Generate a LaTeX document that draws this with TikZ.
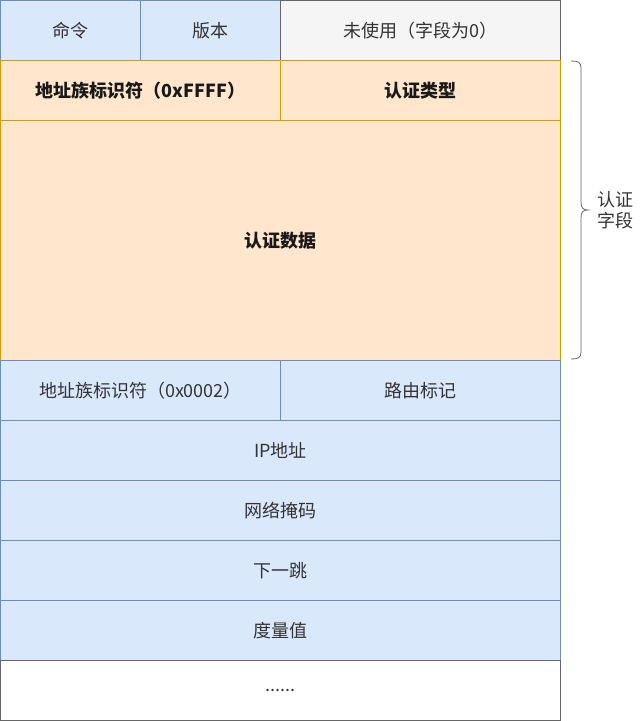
\documentclass[tikz,border=0pt]{standalone}
\usepackage{fontspec}
\setmainfont{Noto Sans CJK SC}
\definecolor{bfill}{HTML}{DAE8FC}
\definecolor{bline}{HTML}{6C8EBF}
\definecolor{ofill}{HTML}{FFE6CC}
\definecolor{oline}{HTML}{D79B00}
\definecolor{gfill}{HTML}{F5F5F5}
\definecolor{gline}{HTML}{666666}
\definecolor{txt}{HTML}{333333}
\begin{document}
\begin{tikzpicture}[x=1pt,y=-1pt,
  cell/.style={draw,line width=0.8pt,minimum height=60pt,inner sep=0pt,outer sep=0pt,anchor=north west,font=\fontsize{18}{21}\selectfont,text=txt},
  blue/.style={cell,fill=bfill,draw=bline},
  orange/.style={cell,fill=ofill,draw=oline,font=\fontsize{18}{21}\selectfont\bfseries,text=black!90},
  grey/.style={cell,fill=gfill,draw=gline},
  white/.style={cell,fill=white,draw=gline}]
\useasboundingbox (0,0) rectangle (641,721);
\node[blue,minimum width=140pt] (cmd) at (0.5,0.5) {命令};
\node[blue,minimum width=140pt] (ver) at (140.5,0.5) {版本};
\node[grey,minimum width=280pt,text=txt] (unused) at (280.5,0.5) {未使用（字段为0）};
\node[orange,minimum width=280pt] (afi1) at (0.5,60.5) {地址族标识符（0xFFFF）};
\node[orange,minimum width=280pt] (atype) at (280.5,60.5) {认证类型};
\node[orange,minimum width=560pt,minimum height=240pt] (adata) at (0.5,120.5) {认证数据};
\node[blue,minimum width=280pt] (afi2) at (0.5,360.5) {地址族标识符（0x0002）};
\node[blue,minimum width=280pt] (tag) at (280.5,360.5) {路由标记};
\node[blue,minimum width=560pt] (ip) at (0.5,420.5) {IP地址};
\node[blue,minimum width=560pt] (mask) at (0.5,480.5) {网络掩码};
\node[blue,minimum width=560pt] (hop) at (0.5,540.5) {下一跳};
\node[blue,minimum width=560pt] (metric) at (0.5,600.5) {度量值};
\node[white,minimum width=560pt] (more) at (0.5,660.5) {......};
\coordinate (bt) at (571,61);
\coordinate (bb) at (571,359);
\draw[gline,line width=0.8pt] (bt) .. controls (578,61) and (581,62) .. (581,68)
  -- (581,202) .. controls (581,208) and (583,210) .. (588,210)
  .. controls (583,210) and (581,212) .. (581,218)
  -- (581,352) .. controls (581,358) and (578,359) .. (bb);
\node[font=\fontsize{18}{21}\selectfont,text=txt,align=center] (lbl) at (615,210) {认证\\字段};
\end{tikzpicture}
\end{document}
